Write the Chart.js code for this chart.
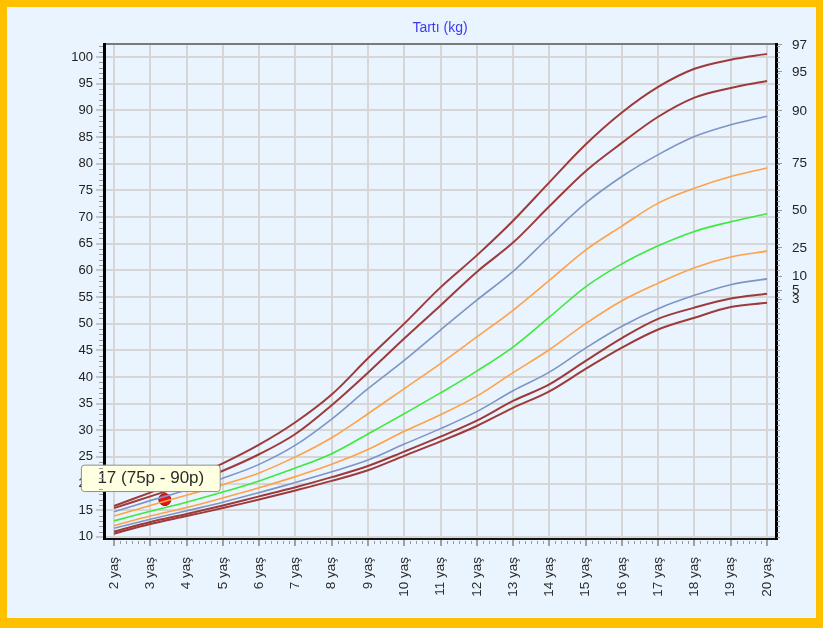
<!DOCTYPE html>
<html>
<head>
<meta charset="utf-8">
<script src="https://cdn.jsdelivr.net/npm/chart.js@4.4.1/dist/chart.umd.min.js"></script>
<style>
  html, body { margin: 0; padding: 0; }
  #frame {
    position: absolute; left: 0; top: 0;
    width: 823px; height: 628px; box-sizing: border-box;
    border: solid #FFC000; border-width: 7px 7px 10px 7px;
    background: #EAF4FE;
  }
  #growth { position: absolute; left: 0; top: 0; }
</style>
</head>
<body>
<div id="frame"></div>
<canvas id="growth" width="823" height="628"></canvas>
<script>
"use strict";

// yaş (yıl)
const ages = [2, 3, 4, 5, 6, 7, 8, 9, 10, 11, 12, 13, 14, 15, 16, 17, 18, 19, 20];

// persentil eğrileri (kg), okunan değerler
const p3  = [10.6, 12.4, 13.9, 15.4, 17.0, 18.7, 20.5, 22.5, 25.2, 27.9, 30.8, 34.2, 37.3, 41.5, 45.5, 48.9, 51.1, 53.1, 53.9];
const p5  = [11.0, 12.8, 14.3, 15.9, 17.6, 19.3, 21.2, 23.3, 26.0, 28.8, 31.8, 35.5, 38.6, 43.0, 47.3, 50.9, 53.0, 54.7, 55.6];
const p10 = [11.6, 13.3, 14.9, 16.5, 18.3, 20.2, 22.2, 24.4, 27.4, 30.3, 33.5, 37.4, 40.9, 45.4, 49.5, 52.8, 55.3, 57.3, 58.4];
const p25 = [12.1, 13.9, 15.5, 17.3, 19.2, 21.3, 23.6, 26.4, 29.8, 32.9, 36.4, 40.8, 45.1, 50.0, 54.3, 57.6, 60.5, 62.5, 63.6];
const p50 = [13.0, 14.8, 16.5, 18.4, 20.5, 22.9, 25.6, 29.3, 33.1, 37.0, 41.1, 45.6, 51.2, 56.9, 61.2, 64.6, 67.3, 69.1, 70.6];
const p75 = [13.9, 15.9, 17.8, 19.8, 22.0, 25.0, 28.6, 33.1, 37.8, 42.5, 47.5, 52.5, 58.1, 63.8, 68.3, 72.6, 75.4, 77.6, 79.2];
const p90 = [14.7, 16.8, 18.8, 21.0, 23.6, 27.2, 32.1, 37.8, 43.1, 48.8, 54.4, 59.8, 66.3, 72.6, 77.6, 81.7, 85.1, 87.3, 88.9];
const p95 = [15.4, 17.6, 19.8, 22.4, 25.5, 29.3, 34.7, 40.8, 47.2, 53.4, 59.7, 65.2, 72.0, 78.6, 83.9, 88.8, 92.4, 94.2, 95.5];
const p97 = [15.8, 18.3, 20.8, 23.8, 27.3, 31.5, 36.7, 43.5, 50.0, 56.8, 62.8, 69.3, 76.5, 83.6, 89.6, 94.4, 97.8, 99.5, 100.6];

// sol eksen etiketleri
const yTicks = [10, 15, 20, 25, 30, 35, 40, 45, 50, 55, 60, 65, 70, 75, 80, 85, 90, 95, 100];

// sağ eksen: persentil adları ve yazıldıkları kg seviyesi
const pctNames  = ["97", "95", "90", "75", "50", "25", "10", "5", "3"];
const pctLevels = [102.3, 97.2, 89.9, 80.0, 71.2, 64.2, 58.8, 56.3, 54.6];

// hasta ölçümü
const patientAge = 3.4;
const patientWeight = 17;
const patientRange = "75p - 90p";

const darkRed = "#9E3A3A", blueGray = "#7C95C6", orange = "#FFA146", green = "#3BEA3B";
const fontFamily = "'Liberation Sans', Arial, sans-serif";

const curves = [
    { name: "3", data: p3, color: darkRed, width: 2 },
    { name: "5", data: p5, color: darkRed, width: 2 },
    { name: "10", data: p10, color: blueGray, width: 1.6 },
    { name: "25", data: p25, color: orange, width: 1.6 },
    { name: "50", data: p50, color: green, width: 1.6 },
    { name: "75", data: p75, color: orange, width: 1.6 },
    { name: "90", data: p90, color: blueGray, width: 1.6 },
    { name: "95", data: p95, color: darkRed, width: 2 },
    { name: "97", data: p97, color: darkRed, width: 2 },
];

const datasets = curves.map((c) => ({
    label: c.name,
    data: ages.map((a, i) => ({ x: a, y: c.data[i] })),
    borderColor: c.color,
    borderWidth: c.width,
    pointRadius: 0,
    pointHitRadius: 0,
    tension: 0.35,
    fill: false,
}));

datasets.push({
    label: "Hasta",
    data: [{ x: patientAge, y: patientWeight }],
    showLine: false,
    pointRadius: 6,
    pointHoverRadius: 6,
    pointBackgroundColor: "#E8141B",
    pointBorderColor: "#9A0A0A",
    pointHoverBackgroundColor: "#E8141B",
    pointHoverBorderColor: "#9A0A0A",
    pointBorderWidth: 1,
});

// küçük çentikler (sol/sağ eksen her 1 kg, alt eksen her 2 ay)
const minorTicks = {
    id: "minorTicks",
    afterDraw(chart) {
        const { ctx, chartArea } = chart;
        const y = chart.scales.y, x = chart.scales.x;
        ctx.save();
        ctx.strokeStyle = "#9a9a9a";
        ctx.lineWidth = 1;
        ctx.beginPath();
        for (let v = 10; v <= 102; v++) {
            const py = Math.round(y.getPixelForValue(v)) + 0.5;
            if (v % 5 !== 0) {
                ctx.moveTo(chartArea.left - 5, py);
                ctx.lineTo(chartArea.left - 1, py);
            }
            ctx.moveTo(chartArea.right + 1, py);
            ctx.lineTo(chartArea.right + 4, py);
        }
        for (let m = 0; m <= 18 * 6; m++) {
            if (m % 6 === 0) continue;
            const px = Math.round(x.getPixelForValue(2 + m / 6)) + 0.5;
            ctx.moveTo(px, chartArea.bottom + 2);
            ctx.lineTo(px, chartArea.bottom + 5);
        }
        ctx.stroke();
        ctx.restore();
    },
};

Chart.Tooltip.positioners.patient = function (items) {
    if (!items.length) return false;
    const el = items[0].element;
    return { x: el.x - 14, y: el.y };
};

const ctx = document.getElementById("growth").getContext("2d");
const chart = new Chart(ctx, {
    type: "line",
    data: { datasets },
    plugins: [minorTicks],
    options: {
        responsive: false,
        animation: false,
        devicePixelRatio: 1,
        layout: { padding: 0 },
        events: [],
        plugins: {
            legend: { display: false },
            title: { display: false },
            tooltip: {
                position: "patient",
                xAlign: "center",
                yAlign: "bottom",
                caretSize: 0,
                caretPadding: 8,
                backgroundColor: "#FFFFE1",
                borderColor: "#8E8E8E",
                borderWidth: 1,
                cornerRadius: 3,
                displayColors: false,
                bodyColor: "#2B2B2B",
                bodyFont: { family: fontFamily, size: 17 },
                padding: { top: 3, bottom: 3, left: 16, right: 16 },
                callbacks: {
                    title: () => "",
                    label: (c) => `${c.parsed.y} (${patientRange})`,
                },
            },
        },
        scales: {
            x: {
                type: "linear",
                position: "bottom",
                min: 1.724,
                max: 20.248,
                afterBuildTicks: (s) => { s.ticks = ages.map((v) => ({ value: v })); },
                afterFit: (s) => { s.height = 89; },
                ticks: {
                    autoSkip: false,
                    minRotation: 90,
                    maxRotation: 90,
                    padding: 11,
                    color: "#2E2E2E",
                    font: { family: fontFamily, size: 13.5 },
                    callback: (v) => `${v} yaş`,
                },
                grid: { color: "#D6D6D6", lineWidth: 2, tickColor: "#A0A0A0", tickLength: 7, tickWidth: 2 },
                border: { color: "#111", width: 2 },
            },
            xTop: {
                type: "linear",
                position: "top",
                min: 1.724,
                max: 20.248,
                afterFit: (s) => { s.height = 44; },
                ticks: { display: false },
                grid: { drawOnChartArea: false, drawTicks: false },
                border: { color: "#7A7A7A", width: 2 },
                title: {
                    display: true,
                    text: "Tartı (kg)",
                    color: "#3B3BF4",
                    font: { family: fontFamily, size: 14 },
                    padding: { top: 20, bottom: 0 },
                },
            },
            y: {
                position: "left",
                min: 9.6,
                max: 102.45,
                afterBuildTicks: (s) => { s.ticks = yTicks.map((v) => ({ value: v })); },
                afterFit: (s) => { s.width = 104; },
                ticks: {
                    autoSkip: false,
                    padding: 3,
                    color: "#222",
                    font: { family: fontFamily, size: 13 },
                },
                grid: { color: "#D6D6D6", lineWidth: 2, tickColor: "#9a9a9a", tickLength: 8, tickWidth: 1 },
                border: { color: "#000", width: 3 },
            },
            yRight: {
                position: "right",
                min: 9.6,
                max: 102.45,
                afterBuildTicks: (s) => { s.ticks = pctLevels.map((v) => ({ value: v })); },
                afterFit: (s) => { s.width = 47; },
                ticks: {
                    autoSkip: false,
                    padding: 10,
                    color: "#222",
                    font: { family: fontFamily, size: 13.5 },
                    callback: (v, i) => pctNames[i],
                },
                grid: { drawOnChartArea: false, tickColor: "#9a9a9a", tickLength: 6, tickWidth: 1 },
                border: { color: "#000", width: 3 },
            },
        },
    },
});

const pIdx = chart.data.datasets.length - 1;
const pt = chart.getDatasetMeta(pIdx).data[0];
chart.tooltip.setActiveElements([{ datasetIndex: pIdx, index: 0 }], { x: pt.x, y: pt.y });
chart.update();
</script>
</body>
</html>
